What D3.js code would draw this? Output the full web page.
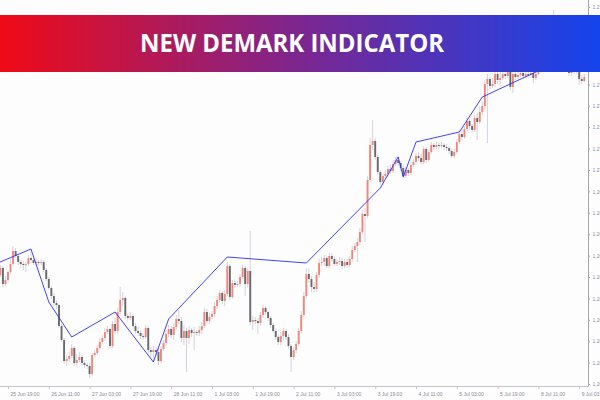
<!DOCTYPE html>
<html>
<head>
<meta charset="utf-8">
<script src="https://cdn.jsdelivr.net/npm/d3@7"></script>
<style>
  html, body { margin: 0; padding: 0; background: #fdfdfe; }
  svg { display: block; }
</style>
</head>
<body>
<main></main>
<script>
//DeMark chart with D3

//Candles (H1)
const opens = [
  1.26555,1.26590,1.26510,1.26530,1.26570,1.26610,1.26675,1.26650,1.26620,1.26610,
  1.26605,1.26610,1.26640,1.26630,1.26615,1.26620,1.26615,1.26620,1.26580,1.26535,
  1.26490,1.26450,1.26415,1.26405,1.26300,1.26230,1.26125,1.26135,1.26150,1.26190,
  1.26115,1.26130,1.26145,1.26115,1.26105,1.26100,1.26060,1.26155,1.26165,1.26190,
  1.26220,1.26240,1.26270,1.26285,1.26200,1.26310,1.26275,1.26370,1.26430,1.26440,
  1.26350,1.26340,1.26350,1.26300,1.26275,1.26265,1.26250,1.26245,1.26290,1.26180,
  1.26170,1.26180,1.26170,1.26125,1.26185,1.26215,1.26260,1.26285,1.26255,1.26295,
  1.26335,1.26325,1.26240,1.26275,1.26240,1.26280,1.26265,1.26270,1.26265,1.26280,
  1.26300,1.26370,1.26325,1.26345,1.26360,1.26400,1.26430,1.26465,1.26425,1.26460,
  1.26600,1.26445,1.26515,1.26505,1.26510,1.26545,1.26590,1.26510,1.26575,1.26320,
  1.26330,1.26325,1.26315,1.26355,1.26390,1.26370,1.26340,1.26305,1.26275,1.26245,
  1.26220,1.26250,1.26275,1.26245,1.26200,1.26145,1.26180,1.26210,1.26275,1.26355,
  1.26450,1.26560,1.26535,1.26495,1.26485,1.26555,1.26615,1.26620,1.26640,1.26600,
  1.26650,1.26635,1.26610,1.26620,1.26625,1.26600,1.26620,1.26605,1.26635,1.26680,
  1.26700,1.26720,1.26770,1.26860,1.26850,1.27030,1.27205,1.27225,1.27145,1.27070,
  1.27020,1.27050,1.27060,1.27085,1.27075,1.27110,1.27130,1.27115,1.27090,1.27050,
  1.27080,1.27065,1.27105,1.27120,1.27150,1.27140,1.27120,1.27185,1.27130,1.27170,
  1.27205,1.27195,1.27205,1.27200,1.27205,1.27195,1.27190,1.27175,1.27150,1.27170,
  1.27220,1.27260,1.27245,1.27285,1.27325,1.27300,1.27280,1.27340,1.27320,1.27370,
  1.27400,1.27510,1.27535,1.27500,1.27510,1.27560,1.27530,1.27540,1.27560,1.27550,
  1.27570,1.27495,1.27560,1.27545,1.27555,1.27565,1.27550,1.27560,1.27555,1.27565,
  1.27540,1.27560,1.27580,1.27600,1.27620,1.27640,1.27630,1.27670,1.27730,1.27700,
  1.27680,1.27655,1.27630,1.27600,1.27565,1.27575,1.27590,1.27580,1.27535,1.27525
];
const highs = [
  1.26605,1.26600,1.26550,1.26580,1.26635,1.26700,1.26690,1.26660,1.26630,1.26625,
  1.26620,1.26655,1.26670,1.26640,1.26635,1.26630,1.26635,1.26630,1.26590,1.26545,
  1.26500,1.26465,1.26430,1.26410,1.26310,1.26240,1.26155,1.26170,1.26210,1.26200,
  1.26160,1.26170,1.26155,1.26130,1.26120,1.26115,1.26165,1.26180,1.26205,1.26240,
  1.26255,1.26290,1.26300,1.26290,1.26325,1.26340,1.26390,1.26495,1.26470,1.26450,
  1.26365,1.26370,1.26360,1.26315,1.26295,1.26280,1.26265,1.26305,1.26300,1.26195,
  1.26200,1.26195,1.26190,1.26200,1.26230,1.26280,1.26305,1.26300,1.26315,1.26355,
  1.26380,1.26345,1.26305,1.26290,1.26300,1.26290,1.26295,1.26280,1.26300,1.26320,
  1.26390,1.26385,1.26365,1.26375,1.26420,1.26450,1.26480,1.26475,1.26480,1.26620,
  1.26610,1.26530,1.26530,1.26525,1.26560,1.26605,1.26600,1.26590,1.26775,1.26350,
  1.26345,1.26340,1.26370,1.26405,1.26400,1.26380,1.26350,1.26315,1.26285,1.26255,
  1.26270,1.26290,1.26285,1.26260,1.26210,1.26195,1.26225,1.26290,1.26375,1.26470,
  1.26590,1.26590,1.26550,1.26520,1.26570,1.26635,1.26645,1.26655,1.26650,1.26665,
  1.26665,1.26650,1.26635,1.26645,1.26640,1.26635,1.26635,1.26650,1.26700,1.26715,
  1.26740,1.26790,1.26880,1.26890,1.27050,1.27240,1.27330,1.27240,1.27155,1.27080,
  1.27065,1.27080,1.27100,1.27105,1.27130,1.27145,1.27150,1.27125,1.27100,1.27095,
  1.27090,1.27120,1.27135,1.27165,1.27170,1.27160,1.27200,1.27195,1.27185,1.27220,
  1.27215,1.27220,1.27215,1.27220,1.27215,1.27210,1.27200,1.27185,1.27185,1.27235,
  1.27280,1.27290,1.27300,1.27340,1.27335,1.27310,1.27355,1.27365,1.27400,1.27425,
  1.27530,1.27560,1.27550,1.27540,1.27580,1.27580,1.27570,1.27590,1.27580,1.27600,
  1.27575,1.27580,1.27580,1.27590,1.27600,1.27585,1.27590,1.27585,1.27600,1.27590,
  1.27600,1.27620,1.27640,1.27655,1.27680,1.27670,1.27705,1.27880,1.27750,1.27720,
  1.27700,1.27670,1.27650,1.27620,1.27600,1.27620,1.27610,1.27600,1.27555,1.27560
];
const lows = [
  1.26545,1.26495,1.26500,1.26520,1.26560,1.26600,1.26640,1.26605,1.26590,1.26580,
  1.26570,1.26600,1.26615,1.26605,1.26600,1.26600,1.26605,1.26570,1.26525,1.26480,
  1.26435,1.26400,1.26385,1.26290,1.26220,1.26110,1.26100,1.26120,1.26140,1.26100,
  1.26100,1.26120,1.26100,1.26090,1.26085,1.26040,1.26050,1.26145,1.26155,1.26180,
  1.26210,1.26225,1.26260,1.26185,1.26190,1.26260,1.26260,1.26360,1.26400,1.26335,
  1.26325,1.26330,1.26285,1.26260,1.26250,1.26235,1.26230,1.26235,1.26165,1.26140,
  1.26125,1.26150,1.26105,1.26115,1.26175,1.26200,1.26245,1.26240,1.26230,1.26285,
  1.26310,1.26220,1.26205,1.26070,1.26210,1.26245,1.26180,1.26250,1.26250,1.26260,
  1.26290,1.26310,1.26310,1.26335,1.26345,1.26385,1.26420,1.26410,1.26400,1.26450,
  1.26430,1.26435,1.26490,1.26495,1.26495,1.26535,1.26450,1.26495,1.26305,1.26280,
  1.26310,1.26260,1.26300,1.26340,1.26355,1.26325,1.26290,1.26265,1.26230,1.26205,
  1.26205,1.26230,1.26230,1.26185,1.26070,1.26130,1.26165,1.26200,1.26265,1.26345,
  1.26440,1.26515,1.26470,1.26465,1.26470,1.26540,1.26600,1.26600,1.26590,1.26590,
  1.26620,1.26600,1.26600,1.26605,1.26585,1.26590,1.26590,1.26590,1.26620,1.26670,
  1.26620,1.26705,1.26760,1.26720,1.26840,1.27020,1.27180,1.27130,1.27055,1.27005,
  1.27005,1.27035,1.27045,1.27060,1.27065,1.27100,1.27100,1.27075,1.27040,1.27040,
  1.27050,1.27055,1.27095,1.27105,1.27125,1.27105,1.27110,1.27115,1.27120,1.27160,
  1.27180,1.27185,1.27185,1.27190,1.27180,1.27175,1.27160,1.27140,1.27140,1.27160,
  1.27210,1.27230,1.27235,1.27275,1.27280,1.27265,1.27270,1.27230,1.27310,1.27355,
  1.27380,1.27215,1.27485,1.27490,1.27495,1.27510,1.27500,1.27530,1.27535,1.27540,
  1.27480,1.27465,1.27530,1.27535,1.27545,1.27535,1.27540,1.27540,1.27550,1.27515,
  1.27530,1.27555,1.27570,1.27590,1.27610,1.27610,1.27620,1.27655,1.27670,1.27650,
  1.27630,1.27600,1.27570,1.27550,1.27550,1.27560,1.27560,1.27505,1.27510,1.27520
];
const closes = [
  1.26590,1.26510,1.26530,1.26570,1.26610,1.26675,1.26650,1.26620,1.26610,1.26605,
  1.26610,1.26640,1.26630,1.26615,1.26620,1.26615,1.26620,1.26580,1.26535,1.26490,
  1.26450,1.26415,1.26405,1.26300,1.26230,1.26125,1.26135,1.26150,1.26190,1.26115,
  1.26130,1.26145,1.26115,1.26105,1.26100,1.26060,1.26155,1.26165,1.26190,1.26220,
  1.26240,1.26270,1.26285,1.26200,1.26310,1.26275,1.26370,1.26430,1.26440,1.26350,
  1.26340,1.26350,1.26300,1.26275,1.26265,1.26250,1.26245,1.26290,1.26180,1.26170,
  1.26180,1.26170,1.26125,1.26185,1.26215,1.26260,1.26285,1.26255,1.26295,1.26335,
  1.26325,1.26240,1.26275,1.26240,1.26280,1.26265,1.26270,1.26265,1.26280,1.26300,
  1.26370,1.26325,1.26345,1.26360,1.26400,1.26430,1.26465,1.26425,1.26460,1.26600,
  1.26445,1.26515,1.26505,1.26510,1.26545,1.26590,1.26510,1.26575,1.26320,1.26330,
  1.26325,1.26315,1.26355,1.26390,1.26370,1.26340,1.26305,1.26275,1.26245,1.26220,
  1.26250,1.26275,1.26245,1.26200,1.26145,1.26180,1.26210,1.26275,1.26355,1.26450,
  1.26560,1.26535,1.26495,1.26485,1.26555,1.26615,1.26620,1.26640,1.26600,1.26650,
  1.26635,1.26610,1.26620,1.26625,1.26600,1.26620,1.26605,1.26635,1.26680,1.26700,
  1.26720,1.26770,1.26860,1.26850,1.27030,1.27205,1.27225,1.27145,1.27070,1.27020,
  1.27050,1.27060,1.27085,1.27075,1.27110,1.27130,1.27115,1.27090,1.27050,1.27080,
  1.27065,1.27105,1.27120,1.27150,1.27140,1.27120,1.27185,1.27130,1.27170,1.27205,
  1.27195,1.27205,1.27200,1.27205,1.27195,1.27190,1.27175,1.27150,1.27170,1.27220,
  1.27260,1.27245,1.27285,1.27325,1.27300,1.27280,1.27340,1.27320,1.27370,1.27400,
  1.27510,1.27535,1.27500,1.27510,1.27560,1.27530,1.27540,1.27560,1.27550,1.27570,
  1.27495,1.27560,1.27545,1.27555,1.27565,1.27550,1.27560,1.27555,1.27565,1.27540,
  1.27560,1.27580,1.27600,1.27620,1.27640,1.27630,1.27670,1.27730,1.27700,1.27680,
  1.27655,1.27630,1.27600,1.27565,1.27575,1.27590,1.27580,1.27535,1.27525,1.27545
];

//DeMark line points (bar index, price)
const demarkIdx = [-1, 12, 19, 28, 45, 60, 66, 89, 120, 149, 156, 158, 163, 180, 189, 210, 229];
const demarkPrice = [1.26615, 1.26685, 1.26420, 1.26245, 1.26370, 1.26120, 1.26335, 1.26645,
                     1.26615, 1.26990, 1.27145, 1.27045, 1.27220, 1.27270, 1.27445, 1.27570, 1.27680];

//Time axis
const timeTickIdx = [3, 19, 35, 51, 67, 83, 99, 115, 131, 147, 163, 179, 195, 211, 227];
const timeTickLabels = ["25 Jun 19:00", "26 Jun 11:00", "27 Jun 03:00", "27 Jun 19:00", "28 Jun 11:00",
                        "1 Jul 03:00", "1 Jul 19:00", "2 Jul 11:00", "3 Jul 03:00", "3 Jul 19:00",
                        "4 Jul 11:00", "5 Jul 03:00", "5 Jul 19:00", "8 Jul 11:00", "9 Jul 03:00"];

//Price axis
const priceTicks = [1.26010, 1.26117, 1.26224, 1.26331, 1.26438, 1.26545, 1.26652, 1.26759, 1.26866,
                    1.26973, 1.27080, 1.27187, 1.27294, 1.27401, 1.27508, 1.27615, 1.27722, 1.27829, 1.27895];

const titleText = "NEW DEMARK INDICATOR";

//Parameters
const w = 600;
const h = 400;
const plotW = 588;
const plotH = 386;

const svg = d3.select("main")
  .append("svg")
  .attr("width", w)
  .attr("height", h);

const x = d3.scaleLinear().domain([0, opens.length - 1]).range([0.35, 584.3]);
const y = d3.scaleLinear().domain([1.26000, 1.27930]).range([plotH, 0]);

svg.append("rect")
  .attr("width", w).attr("height", h)
  .attr("fill", "#fdfdfe");

svg.append("clipPath").attr("id", "plot")
  .append("rect").attr("width", plotW).attr("height", plotH);

const plot = svg.append("g").attr("clip-path", "url(#plot)");

const idx = d3.range(opens.length);

//Wicks
plot.append("g")
  .selectAll("line")
  .data(idx)
  .enter()
  .append("line")
  .attr("x1", i => x(i)).attr("x2", i => x(i))
  .attr("y1", i => y(highs[i])).attr("y2", i => y(lows[i]))
  .attr("stroke", "#d3d3dd")
  .attr("stroke-width", 1);

//Bodies
plot.append("g")
  .selectAll("rect")
  .data(idx)
  .enter()
  .append("rect")
  .attr("x", i => x(i) - 0.95)
  .attr("width", 1.9)
  .attr("y", i => y(Math.max(opens[i], closes[i])))
  .attr("height", i => Math.max(1, Math.abs(y(opens[i]) - y(closes[i]))))
  .attr("fill", i => closes[i] >= opens[i] ? "#f08578" : "#6a6a6e");

//DeMark line
const line = d3.line()
  .x(d => x(d[0]))
  .y(d => y(d[1]));

plot.append("path")
  .datum(demarkIdx.map((d, k) => [d, demarkPrice[k]]))
  .attr("d", line)
  .attr("fill", "none")
  .attr("stroke", "#2b2bff")
  .attr("stroke-width", 0.9);

//Axes
const xAxis = d3.axisBottom(x)
  .tickValues(timeTickIdx)
  .tickSize(3)
  .tickFormat((d, k) => timeTickLabels[k]);

const gx = svg.append("g")
  .attr("transform", "translate(0," + plotH + ")")
  .call(xAxis);
gx.select(".domain").attr("d", "M0,0.5H" + plotW).attr("stroke", "#c4c4ca");
gx.selectAll(".tick line").attr("stroke", "#c4c4ca");
gx.selectAll(".tick text")
  .attr("y", 6).attr("dy", "0.71em")
  .attr("text-anchor", "start")
  .attr("dx", 2)
  .attr("fill", "#8a8a96")
  .style("font", "5px 'Liberation Sans', sans-serif");

const yAxis = d3.axisRight(y)
  .tickValues(priceTicks)
  .tickSize(2)
  .tickFormat(d3.format(".5f"));

const gy = svg.append("g")
  .attr("transform", "translate(" + plotW + ",0)")
  .call(yAxis);
gy.select(".domain").attr("d", "M0.5,0V" + (plotH + 0.5)).attr("stroke", "#a6a6ae");
gy.selectAll(".tick line").attr("stroke", "#a6a6ae");
gy.selectAll(".tick text")
  .attr("x", 4.5)
  .attr("fill", "#8a8a96")
  .style("font", "5px 'Liberation Sans', sans-serif");

//Title banner
const grad = svg.append("defs").append("linearGradient")
  .attr("id", "banner")
  .attr("x1", "0%").attr("x2", "100%");
grad.append("stop").attr("offset", "0%").attr("stop-color", "#f00a16");
grad.append("stop").attr("offset", "50%").attr("stop-color", "#7c2690");
grad.append("stop").attr("offset", "100%").attr("stop-color", "#1444ec");

svg.append("rect")
  .attr("x", 0).attr("y", 15)
  .attr("width", w).attr("height", 57)
  .attr("fill", "url(#banner)");

svg.append("text")
  .attr("x", 140).attr("y", 52)
  .attr("textLength", 304)
  .attr("lengthAdjust", "spacingAndGlyphs")
  .attr("fill", "#ffffff")
  .style("font", "700 25px 'Open Sans', sans-serif")
  .text(titleText);
</script>
</body>
</html>
